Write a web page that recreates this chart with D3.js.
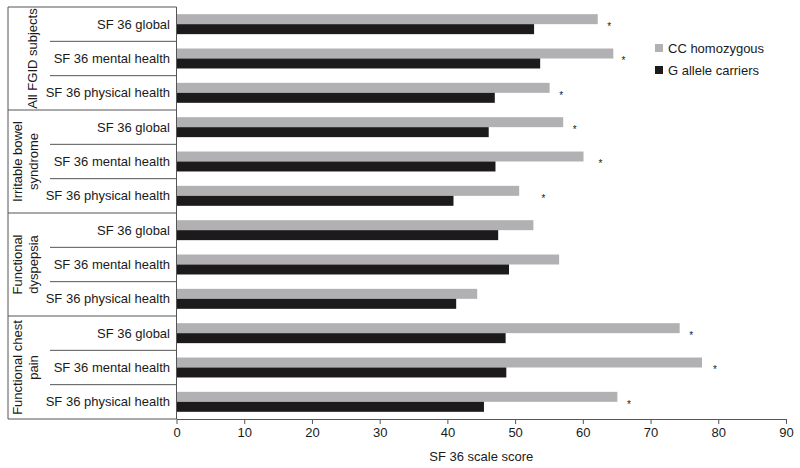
<!DOCTYPE html>
<html>
<head>
<meta charset="utf-8">
<script src="https://cdn.jsdelivr.net/npm/d3@7"></script>
<style>
  html, body { margin: 0; padding: 0; background: #fff; }
  svg { display: block; font-family: "Liberation Sans", Arial, Helvetica, sans-serif; }
</style>
</head>
<body>
<svg id="chart" width="800" height="468"></svg>
<script>
// ---- Data ----
const groups = [
  ["All FGID subjects"],
  ["Irritable bowel", "syndrome"],
  ["Functional", "dyspepsia"],
  ["Functional chest", "pain"]
];
const measures = ["SF 36 global", "SF 36 mental health", "SF 36 physical health"];
const seriesNames = ["CC homozygous", "G allele carriers"];
// rows in order: group x measure
const ccValues = [62.2, 64.5, 55.1, 57.1, 60.1, 50.6, 52.7, 56.5, 44.4, 74.3, 77.6, 65.1];
const gValues  = [52.8, 53.7, 47.0, 46.1, 47.1, 40.9, 47.5, 49.1, 41.3, 48.6, 48.7, 45.4];
// significance marker positions (score units), null = none
const starPos  = [63.9, 66.0, 56.8, 58.8, 62.6, 54.2, null, null, null, 76.0, 79.5, 66.8];
const xTicks = [0, 10, 20, 30, 40, 50, 60, 70, 80, 90];
const xTitle = "SF 36 scale score";
const colors = ["#b1b1b3", "#1c1a1b"];

(function () {
// ---- Layout ----
const svg = d3.select("#chart");
const mLeft = 176.5, mRight = 786, mTop = 7, mBottom = 419;
const boxLeft = 8, subLeft = 50;
const lineColor = "#555";

const rows = [];
groups.forEach((g, gi) => measures.forEach((m, mi) => rows.push({gi, mi, label: m, key: gi + "-" + mi})));
rows.forEach((r, i) => { r.cc = ccValues[i]; r.g = gValues[i]; r.star = starPos[i]; });

const x = d3.scaleLinear().domain([0, 90]).range([mLeft, mRight]);
const y = d3.scaleBand().domain(rows.map(r => r.key)).range([mTop, mBottom]).padding(0);
const ys = d3.scaleBand().domain(seriesNames).range([0, y.bandwidth()]).paddingOuter(0.72).paddingInner(0);
const yg = d3.scaleBand().domain(d3.range(groups.length)).range([mTop, mBottom]).padding(0);

// Bars
const rowG = svg.append("g").selectAll("g").data(rows).join("g")
  .attr("transform", d => `translate(0,${y(d.key)})`);
rowG.append("rect")
  .attr("x", x(0)).attr("y", ys(seriesNames[0]))
  .attr("width", d => x(d.cc) - x(0)).attr("height", ys.bandwidth())
  .attr("fill", colors[0]);
rowG.append("rect")
  .attr("x", x(0)).attr("y", ys(seriesNames[1]))
  .attr("width", d => x(d.g) - x(0)).attr("height", ys.bandwidth())
  .attr("fill", colors[1]);
rowG.filter(d => d.star != null).append("text")
  .attr("x", d => x(d.star)).attr("y", y.bandwidth() / 2 + 6)
  .attr("text-anchor", "middle").attr("font-size", 10).attr("fill", "#222")
  .text("*");

// Row labels
rowG.append("text")
  .attr("x", 170).attr("y", y.bandwidth() / 2)
  .attr("dy", "0.35em").attr("text-anchor", "end")
  .attr("font-size", 13).attr("fill", "#1a1a1a")
  .text(d => d.label);

// Left box lines
const lines = svg.append("g").attr("stroke", lineColor).attr("stroke-width", 1).attr("fill", "none");
lines.append("line").attr("x1", boxLeft).attr("x2", boxLeft).attr("y1", mTop).attr("y2", mBottom);
d3.range(groups.length).forEach(gi => {
  lines.append("line").attr("x1", boxLeft).attr("x2", mLeft).attr("y1", yg(gi)).attr("y2", yg(gi));
});
lines.append("line").attr("x1", boxLeft).attr("x2", mLeft).attr("y1", mBottom).attr("y2", mBottom);
rows.forEach(r => {
  if (r.mi > 0) lines.append("line").attr("x1", subLeft).attr("x2", mLeft).attr("y1", y(r.key)).attr("y2", y(r.key));
});

// Group labels (rotated)
groups.forEach((g, gi) => {
  const cy = yg(gi) + yg.bandwidth() / 2;
  const xs = g.length === 1 ? [32] : [17, 33];
  g.forEach((line, li) => {
    svg.append("text")
      .attr("transform", `translate(${xs[li]},${cy}) rotate(-90)`)
      .attr("text-anchor", "middle").attr("dy", "0.35em")
      .attr("font-size", 13).attr("fill", "#1a1a1a")
      .text(line);
  });
});

// X axis
const ax = svg.append("g").attr("transform", `translate(0,${mBottom})`)
  .call(d3.axisBottom(x).tickValues(xTicks).tickSize(5).tickPadding(4).tickSizeOuter(0));
ax.select(".domain").attr("stroke", lineColor);
ax.selectAll(".tick line").attr("stroke", lineColor);
ax.selectAll(".tick text").attr("font-size", 13).attr("fill", "#1a1a1a")
  .attr("font-family", "Liberation Sans, Arial, sans-serif");

// Y axis line
svg.append("line").attr("x1", mLeft).attr("x2", mLeft).attr("y1", mTop).attr("y2", mBottom)
  .attr("stroke", lineColor);

// Axis title
svg.append("text").attr("x", x(45)).attr("y", 461)
  .attr("text-anchor", "middle").attr("font-size", 13).attr("fill", "#1a1a1a")
  .text(xTitle);

// Legend
const leg = svg.append("g").selectAll("g").data(seriesNames).join("g")
  .attr("transform", (d, i) => `translate(655,${48 + i * 22})`);
leg.append("rect").attr("x", 0).attr("y", -4).attr("width", 8).attr("height", 8)
  .attr("fill", (d, i) => colors[i]);
leg.append("text").attr("x", 13).attr("y", 0).attr("dy", "0.35em")
  .attr("font-size", 13).attr("fill", "#1a1a1a").text(d => d);
})();
</script>
</body>
</html>
